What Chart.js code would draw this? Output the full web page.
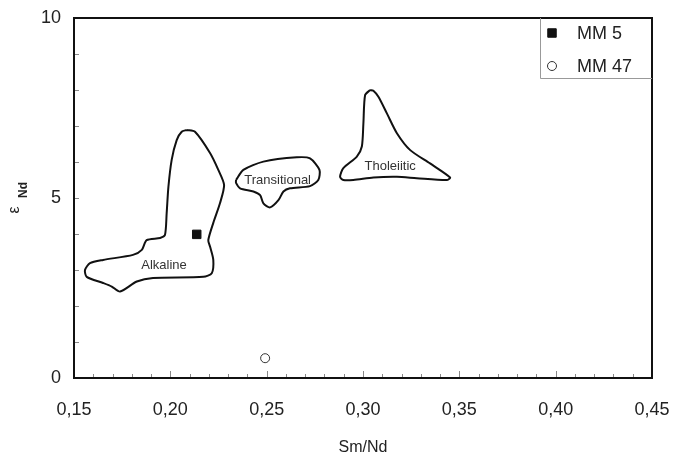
<!DOCTYPE html>
<html>
<head>
<meta charset="utf-8">
<script src="https://cdn.jsdelivr.net/npm/chart.js@4.4.1/dist/chart.umd.min.js"></script>
<style>
  html, body { margin: 0; padding: 0; background: #fff; }
  #wrap { width: 677px; height: 459px; }
</style>
</head>
<body>
<div id="wrap"><canvas id="c" width="677" height="459"></canvas></div>
<script>
// axis ticks (labelled ones)
const xTicks = [0.15, 0.20, 0.25, 0.30, 0.35, 0.40, 0.45];
const yTicks = [0, 5, 10];

// field outlines (Sm/Nd, eps Nd)
const alkaline = [
  [0.2085, 6.89], [0.2128, 6.84], [0.2206, 6.25], [0.2249, 5.78], [0.2279, 5.36],
  [0.2258, 4.86], [0.2223, 4.31], [0.2197, 3.83], [0.2206, 3.65], [0.2223, 3.28],
  [0.2215, 2.91], [0.2171, 2.81], [0.1910, 2.78], [0.1826, 2.68], [0.1739, 2.40],
  [0.1696, 2.54], [0.1651, 2.64], [0.1566, 2.81], [0.1557, 3.00], [0.1583, 3.19],
  [0.1651, 3.28], [0.1806, 3.42], [0.1852, 3.56], [0.1877, 3.83], [0.1947, 3.89],
  [0.1972, 3.97], [0.1981, 4.58], [0.1990, 5.31], [0.2007, 6.06], [0.2033, 6.61],
  [0.2059, 6.84], [0.2085, 6.89]
];
const transitional = [
  [0.2341, 5.50], [0.2379, 5.78], [0.2483, 6.01], [0.2656, 6.13], [0.2725, 6.10],
  [0.2774, 5.78], [0.2768, 5.50], [0.2725, 5.33], [0.2621, 5.27], [0.2587, 5.18],
  [0.2561, 4.94], [0.2518, 4.74], [0.2483, 4.85], [0.2466, 5.08], [0.2431, 5.18],
  [0.2362, 5.27], [0.2341, 5.42], [0.2341, 5.50]
];
const tholeiitic = [
  [0.3037, 8.00], [0.3011, 7.86], [0.3002, 7.07], [0.2994, 6.43], [0.2968, 6.15],
  [0.2898, 5.83], [0.2881, 5.59], [0.2898, 5.50], [0.2950, 5.50], [0.3054, 5.57],
  [0.3176, 5.59], [0.3279, 5.55], [0.3435, 5.50], [0.3452, 5.57], [0.3348, 5.96],
  [0.3245, 6.33], [0.3176, 6.80], [0.3124, 7.35], [0.3080, 7.81], [0.3054, 7.98],
  [0.3037, 8.00]
];

// samples
const mm5 = [[0.2137, 3.99]];
const mm47 = [[0.2492, 0.55]];

// field names and where they sit
const fieldNames = ['Alkaline', 'Transitional', 'Tholeiitic'];
const fieldNameX = [0.1967, 0.2557, 0.3141];
const fieldNameY = [3.125, 5.49, 5.89];

const toXY = arr => arr.map(([x, y]) => ({ x, y }));
const FONT = "'Liberation Sans', Arial, sans-serif";

function fieldDataset(pts) {
  return {
    data: toXY(pts), showLine: true, fill: false, tension: 0.25,
    borderColor: '#111', borderWidth: 2, pointRadius: 0, order: 5
  };
}

// frame, inward ticks, field names, y title, legend
const decor = {
  id: 'decor',
  afterDatasetsDraw(chart) {
    const { ctx, chartArea: a, scales: { x, y } } = chart;
    ctx.save();

    // field names
    ctx.fillStyle = '#333';
    ctx.font = `13px ${FONT}`;
    ctx.textAlign = 'center';
    ctx.textBaseline = 'middle';
    fieldNames.forEach((t, i) => {
      ctx.fillText(t, x.getPixelForValue(fieldNameX[i]), y.getPixelForValue(fieldNameY[i]));
    });

    // inward ticks
    ctx.strokeStyle = '#888';
    ctx.lineWidth = 1;
    for (let i = 0; i <= 30; i++) {
      const px = Math.round(x.getPixelForValue(0.15 + i * 0.01)) + 0.5;
      const len = i % 5 === 0 ? 7 : 4;
      ctx.beginPath(); ctx.moveTo(px, a.bottom); ctx.lineTo(px, a.bottom - len); ctx.stroke();
    }
    for (let v = 1; v < 10; v++) {
      const py = Math.round(y.getPixelForValue(v)) + 0.5;
      ctx.beginPath(); ctx.moveTo(a.left, py); ctx.lineTo(a.left + 5, py); ctx.stroke();
    }

    // frame
    ctx.strokeStyle = '#111';
    ctx.lineWidth = 2;
    ctx.strokeRect(a.left, a.top, a.right - a.left, a.bottom - a.top);

    // legend box
    const lw = 112, lh = 60, lx = a.right - lw, ly = a.top;
    ctx.fillStyle = '#fff';
    ctx.fillRect(lx, ly + 1, lw - 1, lh - 1);
    ctx.strokeStyle = '#999';
    ctx.lineWidth = 1;
    ctx.beginPath();
    ctx.moveTo(lx + 0.5, ly); ctx.lineTo(lx + 0.5, ly + lh + 0.5); ctx.lineTo(a.right, ly + lh + 0.5);
    ctx.stroke();
    const entries = chart.data.datasets.filter(d => d.label);
    entries.forEach((d, i) => {
      const cy = ly + 15 + i * 33;
      ctx.fillStyle = d.backgroundColor;
      ctx.strokeStyle = d.borderColor;
      ctx.lineWidth = d.borderWidth;
      ctx.beginPath();
      if (d.pointStyle === 'rect') {
        const s = Math.SQRT1_2 * d.pointRadius;
        ctx.rect(lx + 12 - s, cy - s, 2 * s, 2 * s);
      } else {
        ctx.arc(lx + 12, cy, d.pointRadius, 0, Math.PI * 2);
      }
      ctx.fill(); ctx.stroke();
      ctx.fillStyle = '#222';
      ctx.font = `18px ${FONT}`;
      ctx.textAlign = 'left';
      ctx.textBaseline = 'middle';
      ctx.fillText(d.label, lx + 37, cy + 1);
    });

    // y title: epsilon Nd, rotated
    ctx.fillStyle = '#222';
    ctx.translate(19, (a.top + a.bottom) / 2 + 12);
    ctx.rotate(-Math.PI / 2);
    ctx.textAlign = 'center';
    ctx.textBaseline = 'alphabetic';
    ctx.font = `16px ${FONT}`;
    ctx.fillText('ε', 0, 0);
    ctx.font = `bold 12px ${FONT}`;
    ctx.fillText('Nd', 20, 8);
    ctx.restore();
  }
};

new Chart(document.getElementById('c'), {
  type: 'scatter',
  data: {
    datasets: [
      { label: 'MM 5', data: toXY(mm5), pointStyle: 'rect', pointRadius: 6,
        backgroundColor: '#111', borderColor: '#111', borderWidth: 1, order: 0 },
      { label: 'MM 47', data: toXY(mm47), pointStyle: 'circle', pointRadius: 4.5,
        backgroundColor: '#fff', borderColor: '#333', borderWidth: 1, order: 0 },
      fieldDataset(alkaline),
      fieldDataset(transitional),
      fieldDataset(tholeiitic)
    ]
  },
  options: {
    responsive: false,
    animation: false,
    layout: { padding: { left: 0, right: 25, top: 18, bottom: 0 } },
    plugins: { legend: { display: false }, tooltip: { enabled: false } },
    scales: {
      x: {
        type: 'linear', min: 0.15, max: 0.45,
        afterBuildTicks: s => { s.ticks = xTicks.map(v => ({ value: v })); },
        afterFit: s => { s.height = 81; s.paddingLeft = 0; s.paddingRight = 0; },
        grid: { display: false, drawTicks: false },
        border: { display: false },
        ticks: {
          autoSkip: false, maxRotation: 0, padding: 21, color: '#222',
          font: { family: FONT, size: 18 },
          callback: v => v.toFixed(2).replace('.', ',')
        },
        title: {
          display: true, text: 'Sm/Nd', color: '#222',
          font: { family: FONT, size: 16 }, padding: { top: 0, bottom: 2 }
        }
      },
      y: {
        type: 'linear', min: 0, max: 10,
        afterBuildTicks: s => { s.ticks = yTicks.map(v => ({ value: v })); },
        afterFit: s => { s.width = 74; s.paddingTop = 0; s.paddingBottom = 0; },
        grid: { display: false, drawTicks: false },
        border: { display: false },
        ticks: {
          padding: 13, color: '#222',
          font: { family: FONT, size: 18 }
        }
      }
    }
  },
  plugins: [decor]
});
</script>
</body>
</html>
